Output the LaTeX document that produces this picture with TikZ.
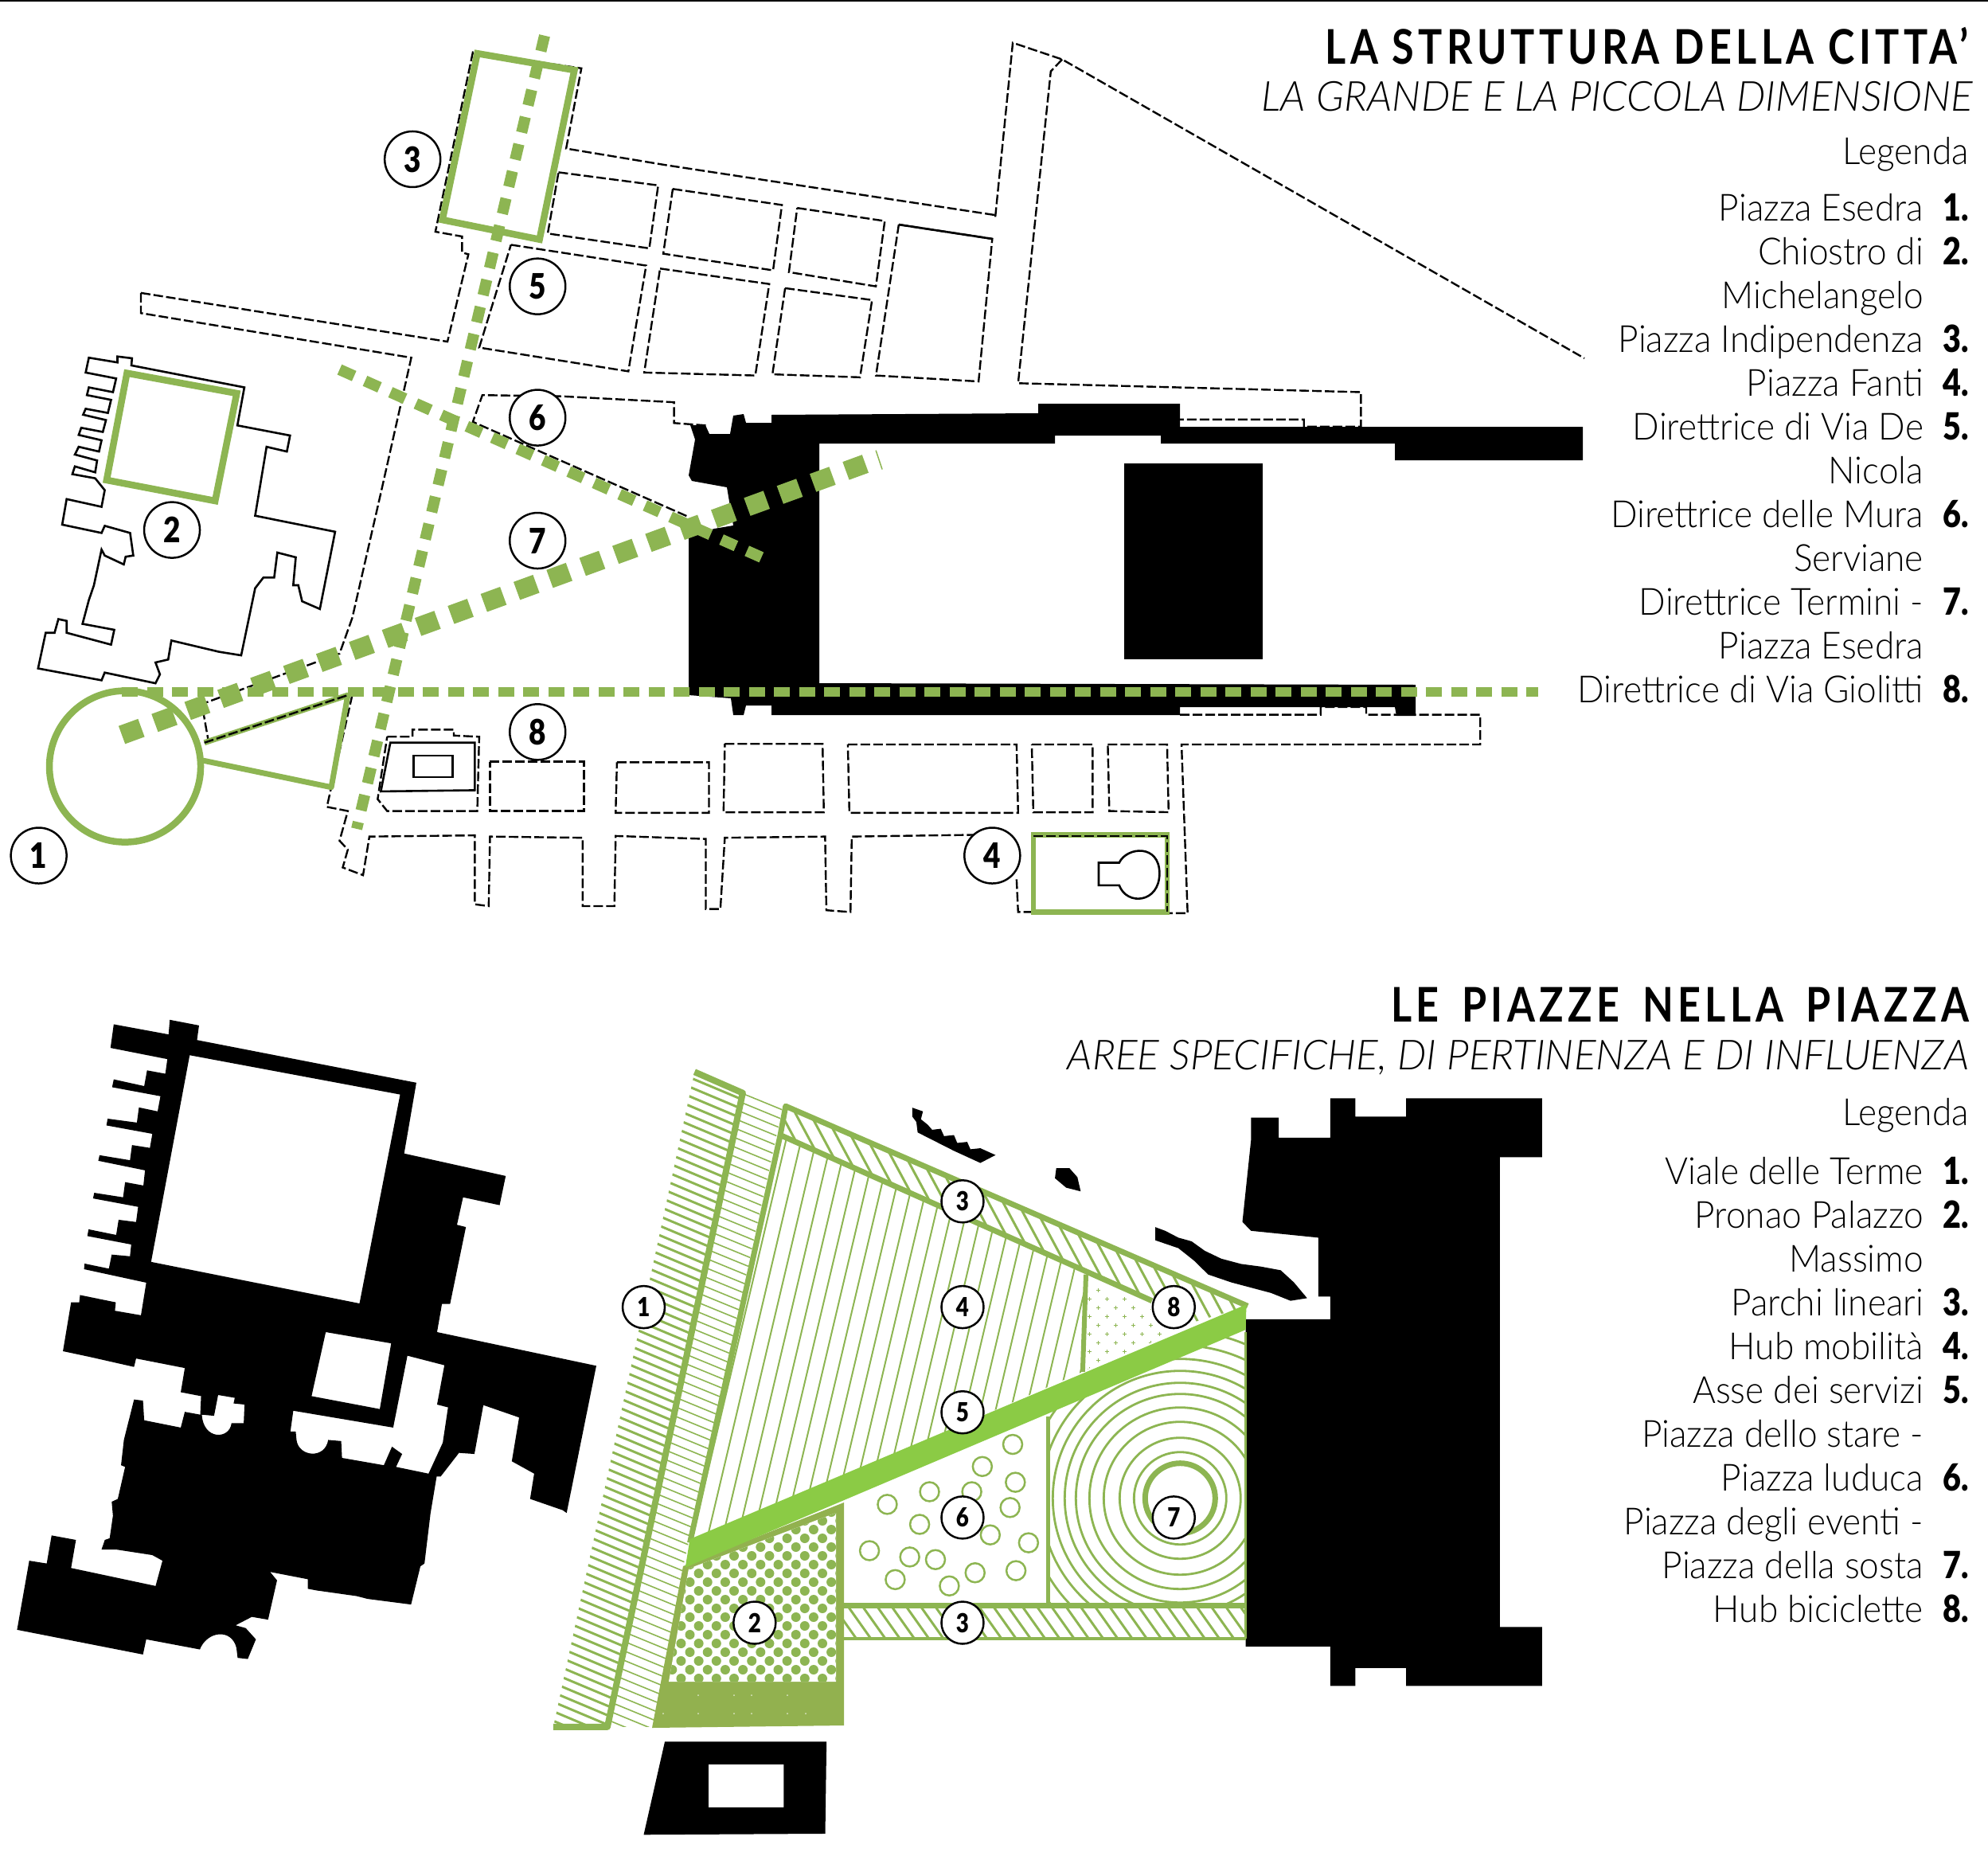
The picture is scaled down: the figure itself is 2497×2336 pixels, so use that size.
\documentclass[tikz,border=0pt]{standalone}
\usepackage{fontspec}
\setmainfont{Lato}
\newfontfamily\legendfont[FakeStretch=0.94]{Lato Light}
\newfontfamily\subtitlefont[FakeStretch=0.99]{Lato Light Italic}
\newfontfamily\titlefont[FakeStretch=0.84,LetterSpace=9]{Lato Bold}
\newfontfamily\numfont[FakeStretch=0.84]{Lato Black}
\definecolor{parkgreen}{HTML}{8DB552}
\definecolor{solidgreen}{HTML}{92B14F}
\definecolor{axisgreen}{HTML}{8BCB45}
\begin{document}
\begin{tikzpicture}[x=1pt,y=-1pt,
  road/.style={draw=black,line width=2.4pt,dash pattern=on 12pt off 4pt},
  wall/.style={draw=black,line width=2.6pt},
  square/.style={draw=parkgreen,line width=8.5pt},
  axis/.style={draw=parkgreen,line width=14pt,dash pattern=on 20pt off 15pt},
  main node/.style={circle,draw=black,line width=2.5pt,fill=white,inner sep=0pt,minimum size=70pt,font=\numfont\fontsize{44}{44}\selectfont},
  small node/.style={main node,minimum size=53pt,font=\numfont\fontsize{33}{33}\selectfont},
  titlenode/.style={anchor=base east,inner sep=0pt,font=\titlefont\fontsize{60}{60}\selectfont},
  subnode/.style={anchor=base east,inner sep=0pt,font=\subtitlefont\fontsize{52}{52}\selectfont},
  legendnode/.style={anchor=base east,inner sep=0pt,font=\legendfont\fontsize{47}{47}\selectfont},
  numlabel/.style={anchor=base east,inner sep=0pt,font=\numfont\fontsize{47}{47}\selectfont},
  zoneA/.style={x=0.7972pt,y=-0.7462pt},
  zoneB/.style={xshift=1000pt,x=0.9547pt,y=-0.7462pt},
  zoneC/.style={yshift=-1230pt,x=0.5102pt,y=-0.7054pt},
  zoneD/.style={xshift=680pt,yshift=-1300pt,x=0.8291pt,y=-0.6607pt}]

  \useasboundingbox (0,0) rectangle (2497,2336);
  \draw[line width=2pt] (0,1) -- (2497,1);

  % top map, left part
  \begin{scope}[zoneA]
    \draw[road] (222,493)--(705,575)--(738,428)--(728,425)--(728,398)--(686,390)--(745,88)--(916,115)--(892,250)--(1050,278)--(1420,338)--(1568,362);
    \draw[road] (222,493)--(222,527)--(648,602)--(600,830)--(555,1040)--(535,1100)--(318,1185)--(328,1245);
    \draw[road] (555,1170)--(522,1325)--(515,1358)--(548,1365)--(535,1415)--(548,1430)--(540,1460)--(572,1473)--(582,1408)--(748,1406)--(748,1522)--(770,1525)--(772,1408)--(918,1410)--(918,1525)--(968,1525)--(970,1407)--(1112,1412)--(1112,1530)--(1135,1530)--(1142,1410)--(1300,1408)--(1302,1532)--(1340,1535)--(1342,1408)--(1540,1405);
    \foreach \a/\b/\c/\d/\e/\f/\g/\h in {880/290/1037/312/1023/418/863/393,
      1060/318/1232/345/1218/455/1045/427,
      1256/350/1394/372/1380/482/1243/458,
      805/412/1018/447/990/625/755/585,
      1040/452/1212/478/1190/632/1015/627,
      1237/485/1374/505/1355/635/1217/630,
      772/1282/920/1282/920/1365/772/1365,
      972/1283/1117/1283/1117/1368/970/1368,
      1142/1252/1296/1252/1298/1367/1140/1367}
      {\draw[road] (\a,\b)--(\c,\d)--(\e,\f)--(\g,\h)--cycle;}
    \draw[road] (1112,716)--(1062,712)--(1062,677)--(885,667)--(760,665)--(745,710)--(1085,870);
    \draw[road] (610,1240)--(650,1240)--(650,1228)--(715,1228)--(715,1238)--(755,1240)--(752,1365)--(610,1365)--(595,1345)--cycle;
    \draw[wall] (615,1250)--(748,1250)--(748,1330)--(600,1332)--cycle;
    \draw[wall] (652,1272)--(713,1272)--(713,1308)--(652,1308)--cycle;
    % building round the cloister
    \draw[wall] (140,602)--(135,627)--(183,637)--(178,660)--(140,652)--(137,665)--(175,673)--(170,695)--(135,688)--(131,698)--(167,707)--(162,727)--(128,720)--(124,732)--(160,741)--(156,760)--(124,752)--(118,765)--(153,775)--(150,795)--(118,785)--(114,798)--(150,805)--(165,825)--(160,853)--(105,840)--(98,883)--(160,897)--(165,885)--(205,897)--(210,935)--(198,937)--(195,950)--(165,935)--(160,925)--(148,985)--(140,1010)--(130,1050)--(180,1060)--(175,1085)--(105,1065)--(105,1045)--(92,1042)--(86,1065)--(72,1065)--(60,1125)--(160,1145)--(165,1132)--(245,1150)--(252,1135)--(245,1115)--(265,1110)--(270,1078)--(345,1097)--(380,1103)--(402,990)--(415,972)--(432,972)--(437,930)--(466,938)--(462,985)--(470,985)--(476,1012)--(504,1025)--(528,895)--(402,868)--(420,752)--(452,760)--(457,733)--(374,716)--(385,652)--(207,615)--(208,603)--(185,600)--(185,610)--cycle;
  \end{scope}

  % top map, right part
  \begin{scope}[zoneB]
    \draw[road] (262,365)--(285,72)--(350,100)--(1037,603);
    \draw[road] (350,100)--(335,120)--(292,645)--(743,660)--(743,718)--(668,718)--(668,706)--(505,706);
    \draw[road] (505,1203)--(690,1203)--(690,1190)--(750,1190)--(750,1203)--(900,1203)--(900,1253)--(507,1253)--(515,1537)--(488,1537);
    \draw[road] (135,378)--(258,402)--(240,642)--(105,632)--cycle;
    \draw[wall] (135,378)--(258,402);
    \foreach \a/\b/\c/\d/\e/\f/\g/\h in {68/1253/290/1253/292/1368/70/1368,
      310/1253/390/1253/390/1367/312/1367,
      410/1253/488/1253/490/1367/412/1365}
      {\draw[road] (\a,\b)--(\c,\d)--(\e,\f)--(\g,\h)--cycle;}
    \draw[road] (290,1480)--(292,1535)--(310,1535);
    \draw[draw=parkgreen,line width=6.5pt] (312,1405)--(488,1405)--(488,1535)--(312,1535)--cycle;
    \draw[road] (312,1407)--(488,1407)--(488,1535);
    \draw[wall] (398,1452)--(425,1452) .. controls (435,1425) and (478,1420) .. (478,1470) .. controls (478,1520) and (435,1525) .. (425,1490)--(398,1490)--cycle;
    \fill (432,780) rectangle (614,1110);
  \end{scope}

  % Termini, at full scale
  \fill (867,534)--(886,534)--(891,545)--(917,545)--(921,522)--(934,520)--(937,531)--(969,531)--(969,521)--(1304,519)--(1304,507)--(1482,507)--(1482,536)--(1988,536)--(1988,578)--(1752,578)--(1752,557)--(1458,557)--(1458,547)--(1325,547)--(1325,557)--(1029,557)--(1029,858)--(1778,860)--(1778,899)--(1754,899)--(1752,888)--(1482,888)--(1482,898)--(969,898)--(969,886)--(937,886)--(934,898)--(921,898)--(918,877)--(865,873)--(865,675)--(897,664)--(921,660)--(913,612)--(869,604)--(865,597)--(873,552)--cycle;

  \begin{scope}[zoneA]
    \draw[square] (752,90)--(905,118)--(850,403)--(697,370)--cycle;
    \draw[square] (200,628)--(373,662)--(339,843)--(168,808)--cycle;
    \draw[square] (197,1290) circle [radius=95pt];
    \draw[square,line width=7pt,line join=round] (322,1250)--(548,1170)--(522,1325)--(320,1280);
    \draw[road] (322,1250)--(548,1170);
    \draw[axis] (858,60)--(562,1395);
    \draw[axis] (535,622)--(1208,942);
    \draw[axis,line width=12pt,dash pattern=on 20pt off 11.5pt] (192,1164)--(2424,1164);
    \draw[axis,line width=24pt,dash pattern=on 26pt off 18pt] (192,1237)--(1370,778);
    \draw[draw=parkgreen,line width=1.5pt] (1380,758)--(1390,790);
    \foreach \n/\x/\y in {1/61/1440,2/271/892,3/650/268,5/847/482,6/847/703,7/847/910,8/847/1232}
      {\node[main node] (top\n) at (\x,\y) {\n};}
  \end{scope}
  \begin{scope}[zoneB]
    \node[main node] (top4) at (258,1440) {4};
  \end{scope}

  % bottom left: the palace
  \begin{scope}[zoneC]
    \fill[even odd rule] (280,80)--(272,122)--(412,142)--(407,168)--(362,162)--(355,190)--(280,178)--(276,192)--(395,208)--(388,235)--(342,228)--(337,255)--(265,248)--(262,260)--(375,275)--(369,300)--(325,295)--(320,322)--(245,313)--(242,323)--(357,340)--(353,367)--(308,361)--(303,388)--(232,380)--(229,390)--(340,405)--(335,432)--(292,428)--(286,455)--(218,445)--(215,457)--(323,472)--(320,493)--(275,490)--(268,515)--(208,506)--(207,516)--(360,540)--(347,598)--(283,590)--(285,575)--(197,562)--(195,575)--(175,575)--(155,662)--(220,672)--(330,690)--(335,675)--(455,692)--(445,735)--(495,742)--(493,775)--(455,770)--(445,798)--(355,785)--(352,750)--(330,748)--(305,820)--(298,865)--(308,868)--(290,925)--(275,930)--(278,955)--(270,995)--(258,998)--(250,1015)--(285,1015)--(375,1025)--(400,1035)--(383,1080)--(175,1048)--(187,998)--(127,990)--(115,1040)--(72,1035)--(42,1158)--(352,1202)--(360,1175)--(492,1193) .. controls (510,1160) and (570,1155) .. (582,1190)--(585,1208)--(610,1210)--(630,1175)--(605,1155)--(580,1150)--(620,1135)--(660,1140)--(682,1070)--(665,1055)--(758,1068)--(758,1085)--(780,1088)--(878,1098)--(905,1103)--(1012,1113)--(1035,1045)--(1045,1040)--(1060,950)--(1075,885)--(1085,885)--(1130,843)--(1168,845)--(1190,758)--(1278,780)--(1260,858)--(1315,880)--(1305,925)--(1385,945)--(1395,950)--(1468,688)--(1076,628)--(1088,578)--(1108,578)--(1147,441)--(1125,437)--(1140,388)--(1230,402)--(1245,350)--(995,310)--(1025,184)--(485,108)--(490,82)--(418,72)--(415,98)--cycle
      (467,135)--(985,205)--(885,577)--(372,503)--cycle
      (802,628)--(963,648)--(935,765)--(767,742)--cycle
      (1003,670)--(1094,687)--(1076,757)--(1103,762)--(1090,825)--(1055,880)--(975,868)--(990,845)--(965,832)--(945,865)--(842,852)--(840,822)--(808,820) .. controls (800,855) and (735,850) .. (730,820)--(728,805)--(715,805)--(722,768)--(968,798)--cycle
      (497,775)--(527,777)--(537,740)--(578,745)--(575,755)--(602,757)--(600,790)--(570,790) .. controls (565,820) and (500,820) .. (497,775)--cycle;
  \end{scope}

  % bottom right: the square
  \begin{scope}[zoneD]
    \fill (1075,157)--(1117,157)--(1117,195)--(1195,195)--(1195,120)--(1233,120)--(1233,155)--(1310,155)--(1310,120)--(1516,120)--(1516,232)--(1452,232)--(1452,1125)--(1516,1125)--(1516,1237)--(1310,1237)--(1310,1203)--(1233,1203)--(1233,1237)--(1195,1237)--(1195,1162)--(1067,1162)--(1067,540)--(1195,540)--(1195,497)--(1177,497)--(1177,385)--(1075,372)--(1062,355)--(1075,200)--cycle;
    \fill[even odd rule] (187,1343)--(432,1343)--(430,1518)--(155,1520)--cycle (253,1386)--(367,1386)--(367,1468)--(253,1468)--cycle;
    \fill (562,138)--(578,145)--(575,160)--(585,170)--(592,180)--(605,178)--(610,192)--(625,190)--(630,205)--(645,203)--(650,217)--(665,215)--(688,228)--(665,243)--(625,220)--(570,185)--(568,165)--(562,155)--cycle;
    \fill (780,253)--(800,253)--(812,270)--(817,297)--(795,290)--(778,272)--cycle;
    \fill (930,365)--(945,372)--(965,385)--(985,392)--(1005,410)--(1030,425)--(1060,435)--(1090,440)--(1120,447)--(1140,470)--(1160,500)--(1135,505)--(1105,490)--(1075,480)--(1045,470)--(1010,455)--(990,430)--(965,405)--(930,390)--cycle;

    % hatches
    \begin{scope}
      \clip (232,70)--(305,110)--(100,1315)--(18,1315)--cycle;
      \foreach \i in {-200,-182,...,1320}
        {\draw[parkgreen,line width=3pt] (0,\i)--(400,\i+211);}
    \end{scope}
    \begin{scope}
      \clip (305,110)--(365,140)--(215,1010)--(170,1315)--(100,1315)--cycle;
      \foreach \i in {-100,-82,...,1320}
        {\draw[parkgreen,line width=1.6pt] (0,\i)--(400,\i+206);}
    \end{scope}
    \begin{scope}
      \clip (370,135)--(1070,515)--(990,545)--(925,505)--(362,190)--cycle;
      \foreach \i in {100,122,...,1100}
        {\draw[parkgreen,line width=3pt] (\i,100)--(\i+257,700);}
    \end{scope}
    \begin{scope}
      \clip (458,1085)--(1067,1085)--(1067,1147)--(458,1147)--cycle;
      \foreach \i in {420,442,...,1067}
        {\draw[parkgreen,line width=3pt] (\i,1085)--(\i+35,1147);}
    \end{scope}
    \begin{scope}
      \clip (362,190)--(825,455)--(820,640)--(225,965)--cycle;
      \foreach \i in {380,403,...,1040}
        {\draw[parkgreen,line width=2pt] (\i,150)--(\i-160,1000);}
    \end{scope}
    \begin{scope}
      \clip (768,700)--(1067,540)--(1067,1085)--(768,1085)--cycle;
      \foreach \r in {58,76,96,114,131,145,160,175,192,210}
        {\draw[parkgreen,line width=2.8pt] (967.7,880.4) circle [radius=\r pt];}
      \draw[parkgreen,line width=7pt] (967.7,880.4) circle [radius=44pt];
    \end{scope}
    % outlines
    \draw[parkgreen,line width=8pt,line join=round] (232,70)--(305,110)--(100,1315)--(18,1315);
    \draw[parkgreen,line width=7pt,line join=round] (1070,515)--(370,135)--(362,190)--(925,505);
    \draw[parkgreen,line width=7pt] (362,190)--(225,965);
    \draw[parkgreen,line width=6pt] (825,455)--(820,640);
    \draw[parkgreen,line width=5pt] (768,725)--(768,1085);
    \draw[parkgreen,line width=7pt] (458,1085)--(1067,1085);
    \draw[parkgreen,line width=4pt] (458,1147)--(1067,1147);
    \draw[parkgreen,line width=2.5pt] (1067,565)--(1067,1147);
    \foreach \x/\y in {714/778,668/820,718/850,652/868,588/868,524/892,710/898,573/930,680/950,738/965,497/980,558/992,597/997,657/1022,719/1018,536/1035,618/1047}
      {\draw[parkgreen,line width=2.5pt] (\x,\y) circle [radius=12pt];}
  \end{scope}

  % the paved square and the bicycle hub, at full scale
  \fill[solidgreen] (858,1967)--(1060,1887)--(1060,2167)--(819,2170)--cycle;
  \begin{scope}
    \clip (865,1970)--(1050,1900)--(1050,2112)--(840,2112)--cycle;
    \fill[white] (830,1880) rectangle (1060,2120);
    \foreach \r in {0,...,22} \foreach \c in {0,...,10}
      {\fill[parkgreen] ({844.3+22.2*\c+11.1*(1-mod(\r,2))},{2108-11*\r}) circle [radius=6pt];}
  \end{scope}
  \foreach \x/\y in {877/2129,922/2129,944/2129,989/2129,833/2152,877/2152,922/2152,944/2152,989/2152,1012/2152}
    {\fill[white!70!solidgreen] (\x,\y) circle [radius=1pt];}
  \begin{scope}
    \clip (1365,1607)--(1447,1645)--(1480,1672)--(1365,1720)--cycle;
    \foreach \r in {0,...,9} \foreach \c in {0,...,6}
      {\draw[parkgreen,line width=1pt] ({1368+22*\c+11*(1-mod(\r,2))-2.5},{1620+11.1*\r}) -- ++(5,0) ++(-2.5,-2.5) -- ++(0,5);}
  \end{scope}

  \begin{scope}[zoneD]
    \fill[axisgreen] (225,958)--(1068,512)--(1067,560)--(218,1012)--cycle;
    \foreach \n/\i/\x/\y in {1/1/155/517,2/2/323/1117,3/3/638/316,3/3b/638/1117,4/4/638/517,5/5/638/717,6/6/638/917,7/7/958/917,8/8/958/517}
      {\node[small node] (bot\i) at (\x,\y) {\n};}
  \end{scope}

  % texts
  \node[titlenode] (titleA) at (2472,81) {LA STRUTTURA DELLA CITTA’};
  \node[subnode] (subA) at (2478,140) {LA GRANDE E LA PICCOLA DIMENSIONE};
  \node[legendnode] (legA) at (2473,207) {Legenda};
  \foreach \t [count=\k from 0] in {Piazza Esedra,Chiostro di,Michelangelo,Piazza Indipendenza,Piazza Fanti,Direttrice di Via De,Nicola,Direttrice delle Mura,Serviane,Direttrice Termini -,Piazza Esedra,Direttrice di Via Giolitti}
    {\node[legendnode] (lineA\k) at (2416,{277.6+55*\k}) {\t};}
  \foreach \n/\k in {1/0,2/1,3/3,4/4,5/5,6/7,7/9,8/11}
    {\node[numlabel] (numA\n) at (2473,{277.6+55*\k}) {\n.};}

  \node[titlenode] (titleB) at (2473,1283) {LE\hspace{11pt} PIAZZE\hspace{11pt} NELLA\hspace{11pt} PIAZZA};
  \node[subnode] (subB) at (2473,1343) {AREE SPECIFICHE, DI PERTINENZA E DI INFLUENZA};
  \node[legendnode] (legB) at (2473,1413) {Legenda};
  \foreach \t [count=\k from 0] in {Viale delle Terme,Pronao Palazzo,Massimo,Parchi lineari,Hub mobilità,Asse dei servizi,Piazza dello stare -,Piazza luduca,Piazza degli eventi -,Piazza della sosta,Hub biciclette}
    {\node[legendnode] (lineB\k) at (2416,{1487+55*\k}) {\t};}
  \foreach \n/\k in {1/0,2/1,3/3,4/4,5/5,6/7,7/9,8/10}
    {\node[numlabel] (numB\n) at (2473,{1487+55*\k}) {\n.};}
\end{tikzpicture}
\end{document}
